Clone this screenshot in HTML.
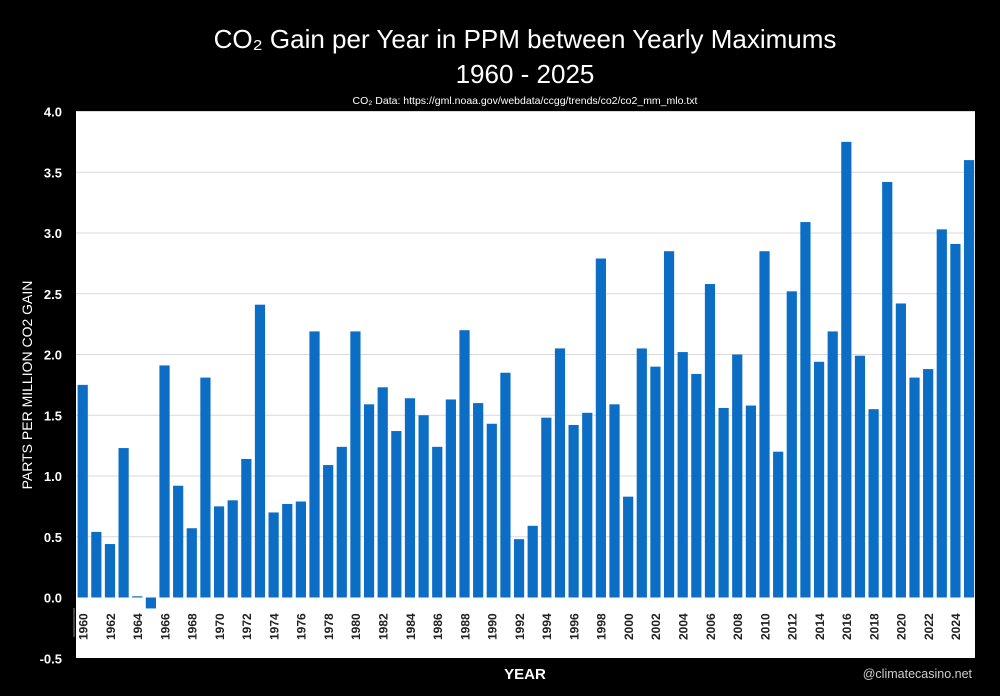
<!DOCTYPE html>
<html><head><meta charset="utf-8"><style>
body{margin:0;background:#000;width:1000px;height:691px;overflow:hidden;font-family:"Liberation Sans",sans-serif}
</style></head><body>
<svg id="c" width="1000" height="691">
<rect width="1000" height="691" fill="#000"/>
<text x="525" y="48" fill="#fff" font-size="26" text-anchor="middle">CO₂ Gain per Year in PPM between Yearly Maximums</text>
<text x="525" y="83" fill="#fff" font-size="26" text-anchor="middle">1960 - 2025</text>
<text x="525" y="104" fill="#fff" font-size="10.5" text-anchor="middle">CO₂ Data: https://gml.noaa.gov/webdata/ccgg/trends/co2/co2_mm_mlo.txt</text>
<rect x="76" y="112" width="899" height="546" fill="#fff"/>
<g id="grid"></g><g id="bars"></g><g id="axes"></g>
<text transform="translate(32,385) rotate(-90)" fill="#fff" font-size="14" text-anchor="middle">PARTS PER MILLION CO2 GAIN</text>
<text x="525" y="679" fill="#fff" font-size="15" font-weight="bold" text-anchor="middle">YEAR</text>
<text x="972" y="678" fill="#cfcfcf" font-size="12.5" text-anchor="end">@climatecasino.net</text>
</svg>
<script>
const years=[];for(let y=1960;y<=2025;y++)years.push(y);
const values=[1.75,0.54,0.44,1.23,0.01,-0.09,1.91,0.92,0.57,1.81,0.75,0.80,1.14,2.41,0.70,0.77,0.79,2.19,1.09,1.24,2.19,1.59,1.73,1.37,1.64,1.50,1.24,1.63,2.20,1.60,1.43,1.85,0.48,0.59,1.48,2.05,1.42,1.52,2.79,1.59,0.83,2.05,1.90,2.85,2.02,1.84,2.58,1.56,2.00,1.58,2.85,1.20,2.52,3.09,1.94,2.19,3.75,1.99,1.55,3.42,2.42,1.81,1.88,3.03,2.91,3.60];
const yTicks=[-0.5,0,0.5,1,1.5,2,2.5,3,3.5,4];
const yTickLabels=["-0.5","0.0","0.5","1.0","1.5","2.0","2.5","3.0","3.5","4.0"];
const NS="http://www.w3.org/2000/svg";
const yS=v=>597.5-(v)*121.5;
const x0=76,step=(976-76)/years.length;
const xS=i=>x0+i*step;
function mk(t,a,p){const e=document.createElementNS(NS,t);for(const k in a)e.setAttribute(k,a[k]);p.appendChild(e);return e;}
const grid=document.getElementById('grid'),bars=document.getElementById('bars'),axes=document.getElementById('axes');
yTicks.forEach((v,i)=>{
 if(v>0){const g=mk('line',{x1:76,x2:975,y1:yS(v),y2:yS(v),stroke:'#d9d9d9','stroke-width':1},grid);
 
 }
 const t=mk('text',{x:62,y:yS(v)+5,fill:'#fff','font-size':13,'font-weight':'bold','text-anchor':'end'},axes);
 t.textContent=yTickLabels[i];
 
 
});
values.forEach((v,i)=>{
 const top=Math.min(yS(v),yS(0)),h=Math.max(Math.abs(yS(v)-yS(0)),1);
 const r=mk('rect',{x:xS(i)+1.6,y:top,width:10.2,height:h,fill:'#0b6ec4'},bars);
 
 
 if(i%2===0){const t=mk('text',{transform:`translate(${xS(i)+11.5},640) rotate(-90)`,fill:'#222','font-size':12,'font-weight':'bold'},axes);
 t.textContent=years[i];
 
 }
});
const ax=mk('line',{x1:74,x2:74,y1:608,y2:637,stroke:'#888','stroke-width':1},axes);


</script>
</body></html>
